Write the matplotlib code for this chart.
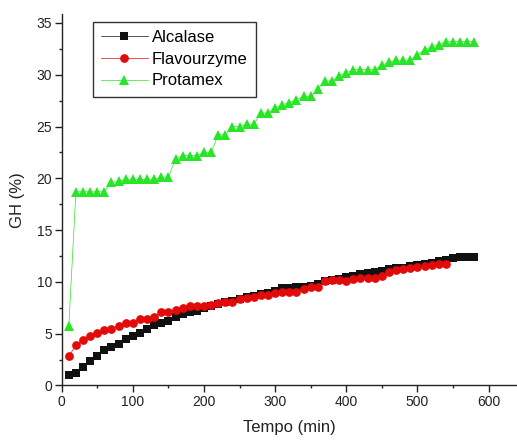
import numpy as np
import matplotlib
matplotlib.use("Agg")
import matplotlib.pyplot as plt
from matplotlib.ticker import MultipleLocator

plt.rcParams['font.family'] = ['Liberation Sans', 'DejaVu Sans']

# ---- data ----
time_alcalase = np.arange(10, 590, 10)
alcalase = [1.0, 1.25, 1.8, 2.35, 2.85, 3.4, 3.7, 4.05, 4.45, 4.8,
            5.1, 5.5, 5.8, 6.0, 6.25, 6.65, 6.9, 7.1, 7.2, 7.45,
            7.7, 7.9, 8.05, 8.2, 8.35, 8.5, 8.65, 8.8, 8.95, 9.1,
            9.4, 9.45, 9.5, 9.55, 9.65, 9.75, 10.05, 10.15, 10.3, 10.5,
            10.6, 10.75, 10.85, 10.95, 11.05, 11.2, 11.3, 11.35, 11.5, 11.6,
            11.75, 11.85, 12.0, 12.1, 12.3, 12.45, 12.45, 12.45]

time_flavourzyme = np.arange(10, 550, 10)
flavourzyme = [2.8, 3.9, 4.4, 4.8, 5.1, 5.35, 5.5, 5.7, 6.0, 6.0,
               6.4, 6.4, 6.6, 7.1, 7.1, 7.3, 7.45, 7.65, 7.65, 7.7,
               7.8, 8.0, 8.1, 8.1, 8.3, 8.4, 8.55, 8.7, 8.75, 8.9,
               9.0, 9.0, 9.0, 9.35, 9.5, 9.5, 10.1, 10.15, 10.2, 10.1,
               10.25, 10.4, 10.4, 10.4, 10.6, 10.95, 11.15, 11.2, 11.3, 11.45,
               11.5, 11.65, 11.7, 11.7]

time_protamex = np.arange(10, 590, 10)
protamex = [5.7, 18.7, 18.7, 18.7, 18.7, 18.7, 19.6, 19.7, 19.9, 19.9,
            19.9, 19.9, 19.9, 20.1, 20.1, 21.9, 22.2, 22.2, 22.2, 22.5,
            22.5, 24.2, 24.2, 25.0, 25.0, 25.2, 25.2, 26.3, 26.3, 26.8,
            27.1, 27.3, 27.6, 27.9, 27.9, 28.6, 29.4, 29.4, 29.9, 30.2,
            30.5, 30.5, 30.5, 30.5, 30.9, 31.2, 31.4, 31.4, 31.4, 31.9,
            32.4, 32.7, 32.9, 33.2, 33.2, 33.2, 33.2, 33.2]

labels = ["Alcalase", "Flavourzyme", "Protamex"]
xlabel = "Tempo (min)"
ylabel = "GH (%)"

# ---- figure ----
fig = plt.figure(figsize=(5.17, 4.41), dpi=100)
ax = fig.add_axes([0.1193, 0.1259, 0.8807, 0.8421])

ax.plot(time_alcalase, alcalase, color='#111111', lw=0.5, marker='s',
        markersize=5.5, markeredgewidth=0, label=labels[0], zorder=3)
ax.plot(time_flavourzyme, flavourzyme, color='#e30a0a', lw=0.5, marker='o',
        markersize=6.3, markeredgewidth=0, label=labels[1], zorder=4)
ax.plot(time_protamex, protamex, color='#26e626', lw=0.5, marker='^',
        markersize=7, markeredgewidth=0, label=labels[2], zorder=5)

ax.set_xlim(0, 640)
ax.set_ylim(0, 35.85)
ax.xaxis.set_major_locator(MultipleLocator(100))
ax.xaxis.set_minor_locator(MultipleLocator(50))
ax.yaxis.set_major_locator(MultipleLocator(5))
ax.yaxis.set_minor_locator(MultipleLocator(2.5))

for s in ['top', 'right']:
    ax.spines[s].set_visible(False)
for s in ['left', 'bottom']:
    ax.spines[s].set_linewidth(1.0)
    ax.spines[s].set_color('#222222')

ax.tick_params(which='major', direction='out', length=5, width=1.0,
               labelsize=10, color='#222222', labelcolor='#222222', pad=2)
ax.tick_params(which='minor', direction='out', length=2.5, width=1.0,
               color='#222222')

ax.set_xlabel(xlabel, fontsize=12, color='#222222', labelpad=8)
ax.set_ylabel(ylabel, fontsize=12, color='#222222', labelpad=8)

leg = ax.legend(loc='upper left', bbox_to_anchor=(92.7 / 517, 1 - 21.7 / 441),
                bbox_transform=fig.transFigure, borderaxespad=0,
                fontsize=12, handlelength=2.8, handletextpad=0.25,
                labelspacing=0.4, borderpad=0.5, fancybox=False,
                framealpha=1, edgecolor='#333333')
leg.get_frame().set_linewidth(1.0)

fig.savefig("out.png", dpi=100)
